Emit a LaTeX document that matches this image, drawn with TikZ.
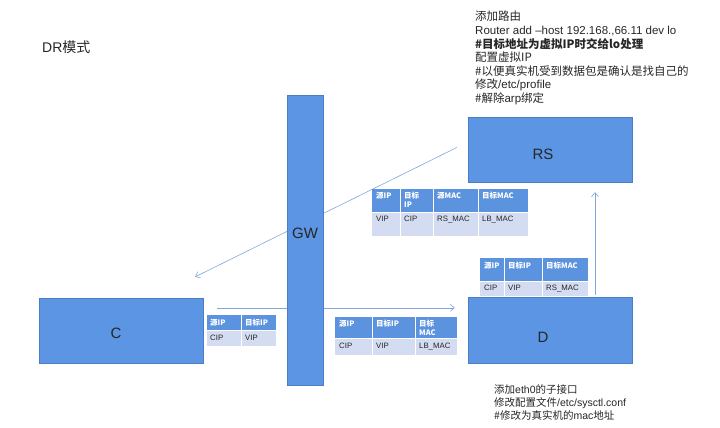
\documentclass[tikz,border=0pt]{standalone}
\usepackage{fontspec}
\setmainfont{Liberation Sans}
\newfontfamily\cjk{Noto Sans CJK SC}
\usepackage{tikz}
\usetikzlibrary{arrows.meta,calc}
\definecolor{boxblau}{HTML}{5B95E3}
\definecolor{boxrand}{HTML}{4A7DC4}
\definecolor{kopfblau}{HTML}{5B93DF}
\definecolor{zeile}{HTML}{D3DCF0}
\definecolor{pfeilblau}{HTML}{7FA7DE}
\definecolor{schrift}{HTML}{262626}
\pgfdeclarelayer{bg}
\pgfsetlayers{bg,main}
\tikzset{
    knoten/.style={
        rectangle,
        draw=boxrand,
        fill=boxblau,
        inner sep=0pt,
        text=schrift,
        font=\fontsize{15}{17}\selectfont
    },
    pfeil/.style={-{Straight Barb[length=4pt,width=7pt]}, draw=pfeilblau, line width=0.6pt},
    kopf/.style={fill=kopfblau},
    dzeile/.style={fill=zeile},
    gitter/.style={draw=white, line width=1pt},
    kopftext/.style={anchor=north west, inner sep=0pt, align=left, text=white,
        font=\cjk\bfseries\fontsize{7.5}{8.5}\selectfont},
    datentext/.style={anchor=north west, inner sep=0pt, text=schrift,
        font=\fontsize{7.8}{9}\selectfont},
    notiz/.style={anchor=north west, inner sep=0pt, align=left, text=schrift}
}

\begin{document}
\begin{tikzpicture}[x=1pt, y=-1pt]
    \useasboundingbox (0,0) rectangle (720,428);

    \node[notiz, font=\fontsize{14}{16}\selectfont] (titel) at (42,41) {DR{\cjk 模式}};

    % Rechner
    \node[knoten, minimum width=164, minimum height=65, text height=16.7pt, text depth=0pt] (C) at (121,330.5) {\hspace*{-10pt}C};
    \node[knoten, minimum width=36, minimum height=290, text height=10.7pt, text depth=14pt] (GW) at (305,240) {GW};
    \node[knoten, minimum width=164, minimum height=66, text height=24.7pt, text depth=0pt] (D) at (550,330) {\hspace*{-14pt}D};
    \node[knoten, minimum width=164, minimum height=65, text height=20.7pt, text depth=0pt] (RS) at (550,149.5) {\hspace*{-14pt}RS};

    % Pfeile hinter den Kaesten
    \begin{pgfonlayer}{bg}
        \draw[pfeil] ($(C.north east)+(14,10)$) -- ($(D.north west)+(-13,11)$);
        \draw[pfeil] ($(D.north)+(45,-2)$) -- ($(RS.south)+(45,10)$);
        \draw[pfeil] ($(RS.west)+(-11,-2)$) -- ($(C.north east)+(-8,-21)$);
    \end{pgfonlayer}

    % Paket C -> GW
    \fill[kopf] (207,315) rectangle (276,330);
    \fill[dzeile] (207,331) rectangle (276,346);
    \draw[gitter] (241.5,315) -- (241.5,346);
    \node[kopftext] (p1k1) at (210,318.5) {源IP};
    \node[kopftext] (p1k2) at (245,318.5) {目标IP};
    \node[datentext] (p1d1) at (210,334.5) {CIP};
    \node[datentext] (p1d2) at (245,334.5) {VIP};

    % Paket GW -> D
    \fill[kopf] (335,317) rectangle (457,338);
    \fill[dzeile] (335,339) rectangle (457,355);
    \draw[gitter] (372,317) -- (372,355);
    \draw[gitter] (415,317) -- (415,355);
    \node[kopftext] (p2k1) at (339,320) {源IP};
    \node[kopftext] (p2k2) at (376,320) {目标IP};
    \node[kopftext] (p2k3) at (419,320) {目标\\MAC};
    \node[datentext] (p2d1) at (339,343) {CIP};
    \node[datentext] (p2d2) at (376,343) {VIP};
    \node[datentext] (p2d3) at (419,343) {LB\_MAC};

    % Paket D -> RS
    \fill[kopf] (480,258) rectangle (588,281);
    \fill[dzeile] (480,282) rectangle (588,296);
    \draw[gitter] (504,258) -- (504,296);
    \draw[gitter] (542,258) -- (542,296);
    \node[kopftext] (p3k1) at (484,262) {源IP};
    \node[kopftext] (p3k2) at (508,262) {目标IP};
    \node[kopftext] (p3k3) at (546,262) {目标MAC};
    \node[datentext] (p3d1) at (484,285) {CIP};
    \node[datentext] (p3d2) at (508,285) {VIP};
    \node[datentext] (p3d3) at (546,285) {RS\_MAC};

    % Paket RS -> C
    \fill[kopf] (372,189) rectangle (528,212);
    \fill[dzeile] (372,213) rectangle (528,236);
    \draw[gitter] (400,189) -- (400,236);
    \draw[gitter] (433,189) -- (433,236);
    \draw[gitter] (478,189) -- (478,236);
    \node[kopftext] (p4k1) at (376,192) {源IP};
    \node[kopftext] (p4k2) at (404,192) {目标\\IP};
    \node[kopftext] (p4k3) at (437,192) {源MAC};
    \node[kopftext] (p4k4) at (482,192) {目标MAC};
    \node[datentext] (p4d1) at (376,216) {VIP};
    \node[datentext] (p4d2) at (404,216) {CIP};
    \node[datentext] (p4d3) at (437,216) {RS\_MAC};
    \node[datentext] (p4d4) at (482,216) {LB\_MAC};

    % Anmerkungen
    \node[notiz, font=\fontsize{11.5}{13.6}\selectfont] (rsnotiz) at (475,11) {%
        {\cjk 添加路由}\\
        Router add –host 192.168.,66.11 dev lo\\
        {\cjk\bfseries \#目标地址为虚拟IP时交给lo处理}\\
        {\cjk 配置虚拟IP}\\
        {\cjk \#以便真实机受到数据包是确认是找自己的}\\
        {\cjk 修改}/etc/profile\\
        {\cjk \#解除}arp{\cjk 绑定}};
    \node[notiz, font=\fontsize{10.5}{13}\selectfont] (dnotiz) at (494,384) {%
        {\cjk 添加}eth0{\cjk 的子接口}\\
        {\cjk 修改配置文件}/etc/sysctl.conf\\
        {\cjk \#修改为真实机的}mac{\cjk 地址}};
\end{tikzpicture}
\end{document}
